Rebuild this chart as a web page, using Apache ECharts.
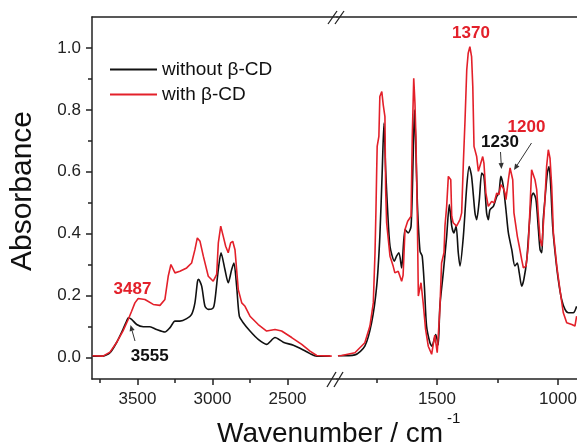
<!DOCTYPE html>
<html>
<head>
<meta charset="utf-8">
<script src="https://cdn.jsdelivr.net/npm/echarts@6/dist/echarts.min.js"></script>
<style>
html, body { margin: 0; padding: 0; background: #fff; }
#chart { width: 577px; height: 445px; }
</style>
</head>
<body>
<div id="chart"></div>
<script>
// [wavenumber cm-1, absorbance]
// high wavenumber segment (left of the break)
const blackHigh = [[3800,0.004],[3730,0.004],[3683,0.015],[3639,0.048],[3597,0.090],[3572,0.117],[3561,0.128],[3539,0.123],[3505,0.106],[3461,0.099],[3417,0.099],[3372,0.090],[3317,0.082],[3283,0.096],[3250,0.117],[3217,0.117],[3172,0.125],[3139,0.139],[3117,0.176],[3100,0.245],[3093,0.252],[3072,0.230],[3050,0.165],[3028,0.155],[2995,0.160],[2983,0.187],[2961,0.284],[2943,0.338],[2917,0.284],[2895,0.241],[2872,0.284],[2857,0.305],[2839,0.230],[2821,0.133],[2795,0.112],[2750,0.085],[2695,0.058],[2639,0.042],[2583,0.064],[2528,0.049],[2461,0.039],[2395,0.024],[2350,0.012],[2305,0.004],[2217,0.004]]
const redHigh = [[3800,0.005],[3730,0.004],[3683,0.017],[3639,0.048],[3597,0.085],[3561,0.123],[3539,0.149],[3517,0.176],[3495,0.190],[3450,0.187],[3395,0.171],[3350,0.168],[3317,0.187],[3295,0.262],[3277,0.300],[3250,0.273],[3217,0.278],[3172,0.289],[3139,0.305],[3117,0.348],[3101,0.386],[3083,0.375],[3061,0.327],[3028,0.262],[2995,0.246],[2972,0.268],[2961,0.370],[2945,0.424],[2928,0.391],[2912,0.359],[2895,0.338],[2879,0.370],[2865,0.375],[2850,0.348],[2828,0.219],[2805,0.176],[2783,0.165],[2750,0.133],[2695,0.106],[2639,0.085],[2583,0.090],[2539,0.085],[2472,0.064],[2405,0.042],[2350,0.020],[2305,0.006],[2205,0.004]]
// fingerprint segment (right of the break)
const blackLow = [[1909,0.005],[1839,0.008],[1798,0.036],[1770,0.112],[1749,0.230],[1736,0.391],[1726,0.606],[1719,0.757],[1712,0.606],[1704,0.477],[1694,0.359],[1676,0.311],[1667,0.327],[1657,0.338],[1646,0.289],[1632,0.413],[1619,0.402],[1607,0.424],[1598,0.660],[1593,0.800],[1588,0.700],[1581,0.499],[1570,0.343],[1561,0.327],[1552,0.230],[1543,0.101],[1529,0.047],[1521,0.036],[1505,0.074],[1495,0.040],[1488,0.165],[1474,0.273],[1460,0.391],[1449,0.494],[1439,0.424],[1430,0.402],[1421,0.424],[1412,0.338],[1405,0.295],[1391,0.391],[1377,0.553],[1367,0.617],[1357,0.585],[1343,0.467],[1336,0.445],[1325,0.510],[1315,0.596],[1306,0.585],[1295,0.467],[1288,0.445],[1281,0.477],[1267,0.488],[1253,0.520],[1244,0.531],[1236,0.585],[1226,0.553],[1215,0.477],[1205,0.402],[1191,0.348],[1178,0.295],[1168,0.305],[1160,0.273],[1150,0.230],[1141,0.252],[1129,0.316],[1119,0.424],[1109,0.520],[1102,0.531],[1091,0.510],[1081,0.413],[1074,0.348],[1067,0.338],[1061,0.445],[1054,0.510],[1044,0.596],[1037,0.617],[1030,0.553],[1022,0.424],[1012,0.338],[999,0.252],[985,0.187],[971,0.155],[957,0.144],[937,0.144],[923,0.165]]
const redLow = [[1909,0.005],[1894,0.006],[1839,0.015],[1798,0.047],[1777,0.101],[1763,0.176],[1756,0.338],[1752,0.477],[1749,0.606],[1747,0.682],[1740,0.714],[1736,0.843],[1728,0.859],[1722,0.816],[1715,0.778],[1712,0.542],[1708,0.435],[1694,0.327],[1681,0.295],[1674,0.273],[1660,0.278],[1646,0.246],[1640,0.265],[1632,0.413],[1621,0.440],[1607,0.456],[1602,0.714],[1596,0.902],[1591,0.822],[1587,0.714],[1581,0.445],[1577,0.198],[1566,0.241],[1557,0.176],[1547,0.090],[1536,0.036],[1522,0.010],[1509,0.072],[1499,0.015],[1488,0.155],[1481,0.305],[1471,0.338],[1467,0.424],[1460,0.488],[1453,0.585],[1443,0.574],[1439,0.456],[1433,0.435],[1419,0.424],[1405,0.445],[1398,0.467],[1391,0.628],[1384,0.768],[1377,0.929],[1371,0.983],[1364,1.004],[1357,0.972],[1352,0.875],[1347,0.682],[1336,0.649],[1329,0.601],[1322,0.606],[1311,0.649],[1306,0.628],[1298,0.531],[1288,0.488],[1274,0.504],[1264,0.499],[1253,0.531],[1244,0.526],[1236,0.558],[1226,0.547],[1219,0.531],[1215,0.510],[1205,0.574],[1198,0.612],[1187,0.574],[1182,0.467],[1174,0.424],[1168,0.391],[1160,0.359],[1150,0.316],[1143,0.289],[1132,0.295],[1123,0.359],[1116,0.477],[1109,0.606],[1102,0.612],[1095,0.574],[1088,0.542],[1081,0.456],[1074,0.381],[1067,0.359],[1061,0.424],[1054,0.510],[1047,0.617],[1040,0.671],[1033,0.644],[1026,0.553],[1019,0.402],[1005,0.295],[992,0.219],[978,0.144],[964,0.112],[943,0.106],[930,0.101],[923,0.133]]

// ticks
const yMajor = [0, 0.2, 0.4, 0.6, 0.8, 1.0]
const yMinor = [0.1, 0.3, 0.5, 0.7, 0.9]
const highMajor = [3500, 3000, 2500]
const highMinor = [3750, 3250, 2750]
const lowMajor = [1500, 1000]
const lowMinor = [1750, 1250]

const names = ['without β-CD', 'with β-CD']
const BLACK = '#111'
const RED = '#e3202a'
const AXIS = '#222'
const FONT = '"Liberation Sans", Arial, sans-serif'

let chart = echarts.init(document.getElementById('chart'))

// bottom / top x axes for one grid
function xAxes(gridIndex, min, max, major, minor) {
  const base = { type: 'value', gridIndex: gridIndex, min: min, max: max, inverse: true, splitLine: { show: false } }
  return [
    Object.assign({}, base, {
      position: 'bottom',
      axisLine: { onZero: false, lineStyle: { color: AXIS, width: 1.5 } },
      axisTick: { customValues: major, length: 6, lineStyle: { color: AXIS, width: 1.5 } },
      axisLabel: { customValues: major, fontSize: 17, color: AXIS, margin: 12, fontFamily: FONT, formatter: (v) => String(v) },
    }),
    Object.assign({}, base, {
      position: 'bottom',
      axisLine: { show: false, onZero: false },
      axisTick: { customValues: minor, length: 4, lineStyle: { color: AXIS, width: 1.5 } },
      axisLabel: { show: false },
    }),
    Object.assign({}, base, {
      position: 'top',
      axisLine: { onZero: false, lineStyle: { color: AXIS, width: 1.5 } },
      axisTick: { show: false },
      axisLabel: { show: false },
    }),
  ]
}

function line(name, data, color, xi, yi, smooth) {
  return {
    name: name,
    type: 'line',
    xAxisIndex: xi,
    yAxisIndex: yi,
    data: data,
    showSymbol: false,
    smooth: smooth,
    silent: true,
    lineStyle: { color: color, width: 1.6 },
    itemStyle: { color: color },
  }
}

function arrow(x1, y1, x2, y2, color) {
  const a = Math.atan2(y2 - y1, x2 - x1)
  const L = 6, W = 2.6
  const bx = x2 - L * Math.cos(a), by = y2 - L * Math.sin(a)
  return [
    { type: 'line', shape: { x1: x1, y1: y1, x2: bx, y2: by }, style: { stroke: color, lineWidth: 1 } },
    { type: 'polygon', shape: { points: [[x2, y2], [bx + W * Math.sin(a), by - W * Math.cos(a)], [bx - W * Math.sin(a), by + W * Math.cos(a)]] }, style: { fill: color } },
  ]
}

function label(text, x, y, color) {
  return { type: 'text', x: x, y: y, style: { text: text, fill: color, font: 'bold 17px ' + FONT, textAlign: 'center', textVerticalAlign: 'middle' } }
}

function slash(x1, y1, x2, y2) {
  return { type: 'line', shape: { x1: x1, y1: y1, x2: x2, y2: y2 }, style: { stroke: AXIS, lineWidth: 1.3 } }
}

chart.setOption({
  animation: false,
  textStyle: { fontFamily: FONT },
  grid: [
    { left: 92, top: 17, width: 245, height: 362, outerBoundsMode: 'none' },
    { left: 337, top: 17, width: 240, height: 362, outerBoundsMode: 'none' },
  ],
  xAxis: [].concat(
    xAxes(0, 2170, 3803, highMajor, highMinor),
    xAxes(1, 921.5, 1913, lowMajor, lowMinor)
  ),
  yAxis: [
    {
      type: 'value', gridIndex: 0, position: 'left', min: -0.07, max: 1.1, splitLine: { show: false },
      axisLine: { show: true, onZero: false, lineStyle: { color: AXIS, width: 1.5 } },
      axisTick: { show: true, customValues: yMajor, length: 6, lineStyle: { color: AXIS, width: 1.5 } },
      axisLabel: { customValues: yMajor, fontSize: 17, color: AXIS, margin: 11, fontFamily: FONT, formatter: (v) => v.toFixed(1) },
    },
    {
      type: 'value', gridIndex: 0, position: 'left', min: -0.07, max: 1.1, splitLine: { show: false },
      axisLine: { show: false, onZero: false },
      axisTick: { show: true, customValues: yMinor, length: 4, lineStyle: { color: AXIS, width: 1.5 } },
      axisLabel: { show: false },
    },
    { type: 'value', gridIndex: 1, min: -0.07, max: 1.1, show: false },
  ],
  legend: {
    data: names,
    orient: 'vertical',
    left: 110,
    top: 60,
    padding: 0,
    icon: 'rect',
    itemWidth: 47,
    itemHeight: 2,
    itemGap: 6,
    textStyle: { fontSize: 19, color: BLACK, lineHeight: 19, fontFamily: FONT },
  },
  series: [
    line(names[0], blackHigh, BLACK, 0, 0, 0.25),
    line(names[1], redHigh, RED, 0, 0, false),
    line(names[0], blackLow, BLACK, 3, 2, 0.25),
    line(names[1], redLow, RED, 3, 2, false),
  ],
  graphic: [
    // axis titles
    { type: 'text', x: 23, y: 191, rotation: Math.PI / 2, style: { text: 'Absorbance', fill: BLACK, font: '30px ' + FONT, textAlign: 'center', textVerticalAlign: 'middle' } },
    { type: 'text', x: 217, y: 434, style: { text: 'Wavenumber / cm', fill: BLACK, font: '28px ' + FONT, textAlign: 'left', textVerticalAlign: 'middle' } },
    { type: 'text', x: 447, y: 419, style: { text: '-1', fill: BLACK, font: '15px ' + FONT, textAlign: 'left', textVerticalAlign: 'middle' } },
    // axis break marks
    slash(328, 24, 337, 11), slash(335, 24, 344, 11),
    slash(327, 387, 336, 372), slash(334, 387, 343, 372),
    // peak annotations
    label('1370', 471, 33, RED),
    label('1230', 500, 142, BLACK),
    label('1200', 526.5, 127, RED),
    label('3487', 132.5, 289, RED),
    label('3555', 149.7, 356, BLACK),
  ].concat(
    arrow(135, 341, 130.5, 325, '#333'),
    arrow(500.5, 152, 501.5, 169, '#333'),
    arrow(531.5, 143, 514, 170, '#333')
  ),
})
</script>
</body>
</html>
